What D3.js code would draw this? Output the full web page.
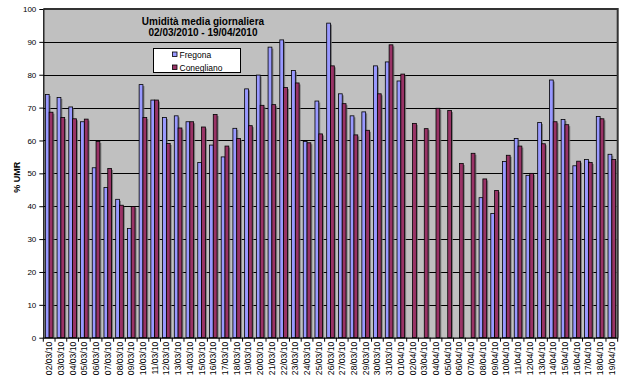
<!DOCTYPE html>
<html>
<head>
<meta charset="utf-8">
<script src="https://cdn.jsdelivr.net/npm/d3@7"></script>
<style>
  html, body { margin: 0; padding: 0; background: #fff; }
  svg { display: block; font-family: Arial, "Liberation Sans", sans-serif; }
</style>
</head>
<body>
<svg id="chart" width="625" height="383"></svg>
<script>
// Daily dates (02/03/2010 - 19/04/2010)
const days = [
  "02/03/10","03/03/10","04/03/10","05/03/10","06/03/10","07/03/10","08/03/10","09/03/10",
  "10/03/10","11/03/10","12/03/10","13/03/10","14/03/10","15/03/10","16/03/10","17/03/10",
  "18/03/10","19/03/10","20/03/10","21/03/10","22/03/10","23/03/10","24/03/10","25/03/10",
  "26/03/10","27/03/10","28/03/10","29/03/10","30/03/10","31/03/10","01/04/10","02/04/10",
  "03/04/10","04/04/10","05/04/10","06/04/10","07/04/10","08/04/10","09/04/10","10/04/10",
  "11/04/10","12/04/10","13/04/10","14/04/10","15/04/10","16/04/10","17/04/10","18/04/10",
  "19/04/10"
];

// Mean daily relative humidity (%); null = no data
const fregona = [
  74.0, 73.1, 70.2, 65.7, 51.7, 45.7, 42.1, 33.2,
  77.0, 72.3, 67.0, 67.5, 65.7, 53.3, 58.6, 55.0,
  63.7, 75.7, 79.9, 88.4, 90.6, 81.3, 59.7, 72.0,
  95.7, 74.2, 67.5, 68.7, 82.7, 83.9, 78.1, null,
  null, null, null, null, null, 42.6, 37.8, 53.6,
  60.6, 49.4, 65.5, 78.4, 66.4, 52.3, 54.2, 67.3,
  55.8
];
const conegliano = [
  68.6, 67.0, 66.6, 66.5, 59.7, 51.5, 40.3, 39.9,
  67.0, 72.3, 59.1, 63.8, 65.7, 64.1, 67.9, 58.3,
  60.6, 64.5, 70.7, 70.9, 76.1, 77.5, 59.3, 62.0,
  82.7, 71.2, 61.7, 63.1, 74.2, 89.1, 80.2, 65.2,
  63.6, 69.8, 69.1, 53.0, 56.1, 48.3, 44.8, 55.5,
  58.3, 50.0, 59.0, 65.7, 64.8, 53.7, 53.3, 66.6,
  54.2
];

const seriesNames = ["Fregona", "Conegliano"];
const seriesColors = ["#9999FF", "#993366"];
const yTicks = [0, 10, 20, 30, 40, 50, 60, 70, 80, 90, 100];
const titleLines = ["Umidità media giornaliera", "02/03/2010 - 19/04/2010"];
const yTitle = "% UMR";

const svg = d3.select("#chart");
const plot = { left: 43.3, right: 617.7, top: 9, bottom: 337.7 };

const x = d3.scaleBand().domain(days).range([plot.left, plot.right]).padding(0);
const xSub = d3.scaleBand().domain(seriesNames).range([0, x.bandwidth()])
  .paddingInner(0).paddingOuter(0.54);
const y = d3.scaleLinear().domain([0, 100]).range([plot.bottom, plot.top]);
const color = d3.scaleOrdinal().domain(seriesNames).range(seriesColors);

// plot background
svg.append("rect")
  .attr("x", plot.left).attr("y", plot.top)
  .attr("width", plot.right - plot.left).attr("height", plot.bottom - plot.top)
  .attr("fill", "#C0C0C0");

// horizontal gridlines
svg.append("g").selectAll("line")
  .data(yTicks.filter(d => d > 0 && d < 100))
  .join("line")
  .attr("x1", plot.left).attr("x2", plot.right)
  .attr("y1", d => Math.round(y(d)) + 0.5).attr("y2", d => Math.round(y(d)) + 0.5)
  .attr("stroke", "#000").attr("stroke-width", 1);

// top and right frame
svg.append("path")
  .attr("d", `M${plot.left},${plot.top}H${plot.right}V${plot.bottom}`)
  .attr("fill", "none").attr("stroke", "#333").attr("stroke-width", 2);

// bar data
const rows = days.map((d, i) => ({ day: d, values: [
  { key: "Fregona", value: fregona[i] },
  { key: "Conegliano", value: conegliano[i] }
].filter(v => v.value !== null) }));

const groups = svg.append("g").selectAll("g")
  .data(rows).join("g")
  .attr("transform", d => `translate(${x(d.day)},0)`);

// drop shadow of bars
groups.selectAll("rect.shadow")
  .data(d => d.values).join("rect")
  .attr("class", "shadow")
  .attr("x", d => xSub(d.key) + 1.5)
  .attr("y", d => y(d.value) + 1.5)
  .attr("width", xSub.bandwidth())
  .attr("height", d => Math.max(0, plot.bottom - y(d.value) - 1.5))
  .attr("fill", "#6e6e6e").attr("opacity", 0.8);

groups.selectAll("rect.bar")
  .data(d => d.values).join("rect")
  .attr("class", "bar")
  .attr("x", d => xSub(d.key))
  .attr("y", d => y(d.value))
  .attr("width", xSub.bandwidth())
  .attr("height", d => plot.bottom - y(d.value))
  .attr("fill", d => color(d.key))
  .attr("stroke", "#000").attr("stroke-width", 0.8);

// y axis
const yAxis = svg.append("g")
  .attr("transform", `translate(${plot.left},0)`)
  .call(d3.axisLeft(y).tickValues(yTicks).tickSize(4).tickPadding(3).tickSizeOuter(0));
yAxis.select(".domain").attr("stroke", "#000").attr("stroke-width", 1.2);
yAxis.selectAll(".tick line").attr("stroke", "#000");
yAxis.selectAll(".tick text")
  .attr("font-size", "8px").attr("fill", "#000")
  .style("font-family", "Arial, 'Liberation Sans', sans-serif");

// x axis: baseline, ticks between categories, rotated labels
const xAxis = svg.append("g")
  .attr("transform", `translate(0,${plot.bottom})`)
  .call(d3.axisBottom(x).tickSize(0).tickPadding(0).tickSizeOuter(0));
xAxis.select(".domain").attr("stroke", "#000").attr("stroke-width", 1.2);
xAxis.selectAll(".tick text")
  .attr("transform", "rotate(-90)")
  .attr("text-anchor", "end")
  .attr("x", -4).attr("y", 0).attr("dy", "0.35em")
  .attr("font-size", "8.6px").attr("fill", "#000")
  .style("font-family", "Arial, 'Liberation Sans', sans-serif");

const boundaries = days.map(d => x(d)).concat([plot.right]);
svg.append("g").selectAll("line")
  .data(boundaries).join("line")
  .attr("x1", d => d).attr("x2", d => d)
  .attr("y1", plot.bottom).attr("y2", plot.bottom + 4)
  .attr("stroke", "#000");

// y axis title
svg.append("text")
  .attr("transform", `translate(20,${(plot.top + plot.bottom) / 2 + 4}) rotate(-90)`)
  .attr("text-anchor", "middle")
  .attr("font-size", "9px").attr("font-weight", "bold")
  .text(yTitle);

// chart title
svg.append("g").selectAll("text")
  .data(titleLines).join("text")
  .attr("x", 203).attr("y", (d, i) => 24.5 + i * 11)
  .attr("text-anchor", "middle")
  .attr("font-size", "10px").attr("font-weight", "bold")
  .text(d => d);

// legend
const legend = svg.append("g").attr("transform", "translate(153.5,48.5)");
legend.append("rect")
  .attr("width", 87).attr("height", 24)
  .attr("fill", "#fff").attr("stroke", "#000").attr("stroke-width", 1);
const items = legend.selectAll("g.item")
  .data(seriesNames).join("g")
  .attr("class", "item")
  .attr("transform", (d, i) => `translate(19,${3.5 + i * 13})`);
items.append("rect")
  .attr("width", 4.5).attr("height", 4.5)
  .attr("fill", d => color(d))
  .attr("stroke", "#000").attr("stroke-width", 0.8);
items.append("text")
  .attr("x", 7).attr("y", 5.5)
  .attr("font-size", "8.5px")
  .text(d => d);
</script>
</body>
</html>
